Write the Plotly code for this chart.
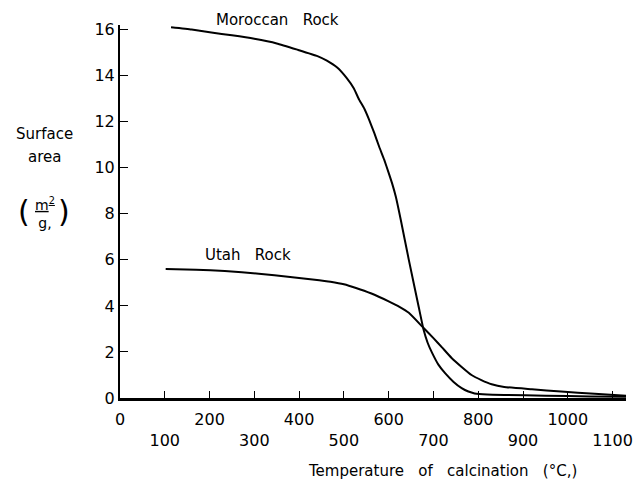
import plotly.graph_objects as go

# Data
moroccan_T = [114, 160, 204, 250, 300, 350, 396, 441, 462, 485, 506, 522, 534, 546, 556, 568, 579, 590, 600, 608, 616, 627, 645, 667, 678, 687, 697, 711, 726, 745, 763, 778, 792, 820, 858, 950, 1050, 1130]
moroccan_S = [16.1, 16.0, 15.87, 15.75, 15.6, 15.4, 15.13, 14.85, 14.65, 14.35, 13.9, 13.45, 12.96, 12.55, 12.1, 11.5, 10.9, 10.35, 9.78, 9.3, 8.74, 7.74, 6.0, 3.96, 2.96, 2.4, 1.96, 1.45, 1.08, 0.7, 0.43, 0.28, 0.2, 0.15, 0.13, 0.1, 0.07, 0.05]
utah_T = [102, 170, 234, 310, 380, 430, 470, 500, 527, 560, 600, 625, 645, 678, 700, 719, 740, 763, 785, 807, 830, 858, 920, 985, 1060, 1132]
utah_S = [5.6, 5.57, 5.52, 5.4, 5.26, 5.15, 5.05, 4.94, 4.78, 4.55, 4.2, 3.95, 3.7, 3.04, 2.6, 2.2, 1.75, 1.35, 1.0, 0.78, 0.6, 0.48, 0.38, 0.28, 0.18, 0.1]

x_ticks = [0, 100, 200, 300, 400, 500, 600, 700, 800, 900, 1000, 1100]
x_tick_text = ["0", "<br>100", "200", "<br>300", "400", "<br>500", "600", "<br>700", "800", "<br>900", "1000", "<br>1100"]
y_ticks = [0, 2, 4, 6, 8, 10, 12, 14, 16]

FONT = "DejaVu Sans"
X_MAX = 1130
Y_MAX = 16.2

fig = go.Figure()
for xs, ys in [(moroccan_T, moroccan_S), (utah_T, utah_S)]:
    fig.add_trace(go.Scatter(x=xs, y=ys, mode="lines",
                             line=dict(color="black", width=2, shape="spline", smoothing=0.4),
                             showlegend=False, hoverinfo="skip"))

fig.update_layout(
    width=633, height=481,
    margin=dict(l=120, r=0, t=25, b=83),
    paper_bgcolor="white", plot_bgcolor="white",
    font=dict(family=FONT, color="black", size=15),
    xaxis=dict(range=[0, X_MAX], tickvals=x_ticks, ticktext=x_tick_text,
               ticks="inside", ticklen=7, tickwidth=1.2, tickcolor="black",
               showline=True, linecolor="black", linewidth=3,
               showgrid=False, zeroline=False, ticklabeloverflow="allow",
               ticklabelstandoff=5,
               tickfont=dict(size=16, family=FONT)),
    yaxis=dict(range=[0, Y_MAX], tickvals=y_ticks,
               ticks="inside", ticklen=8, tickwidth=1.2, tickcolor="black",
               showline=True, linecolor="black", linewidth=2,
               showgrid=False, zeroline=False,
               tickfont=dict(size=16, family=FONT)),
)

ann = [
    dict(x=352, y=16.4, text="Moroccan   Rock"),
    dict(x=285, y=6.2, text="Utah   Rock"),
    dict(x=721, y=-3.15, text="Temperature   of   calcination   (°C,)"),
    dict(x=-168, y=11.45, text="Surface"),
    dict(x=-168, y=10.45, text="area"),
    dict(x=-168, y=8.05, text="<u>m<sup>2</sup></u><br>g,", font=dict(size=14, family=FONT)),
    dict(x=-214, y=8.1, text="(", font=dict(size=30, family=FONT)),
    dict(x=-124, y=8.1, text=")", font=dict(size=30, family=FONT)),
]
for a in ann:
    a["x"] = a["x"] / X_MAX
    a["y"] = a["y"] / Y_MAX
    a.update(xref="paper", yref="paper", showarrow=False, xanchor="center", yanchor="middle")
    a.setdefault("font", dict(size=15, family=FONT))
    fig.add_annotation(**a)

fig.write_html("out.html")
